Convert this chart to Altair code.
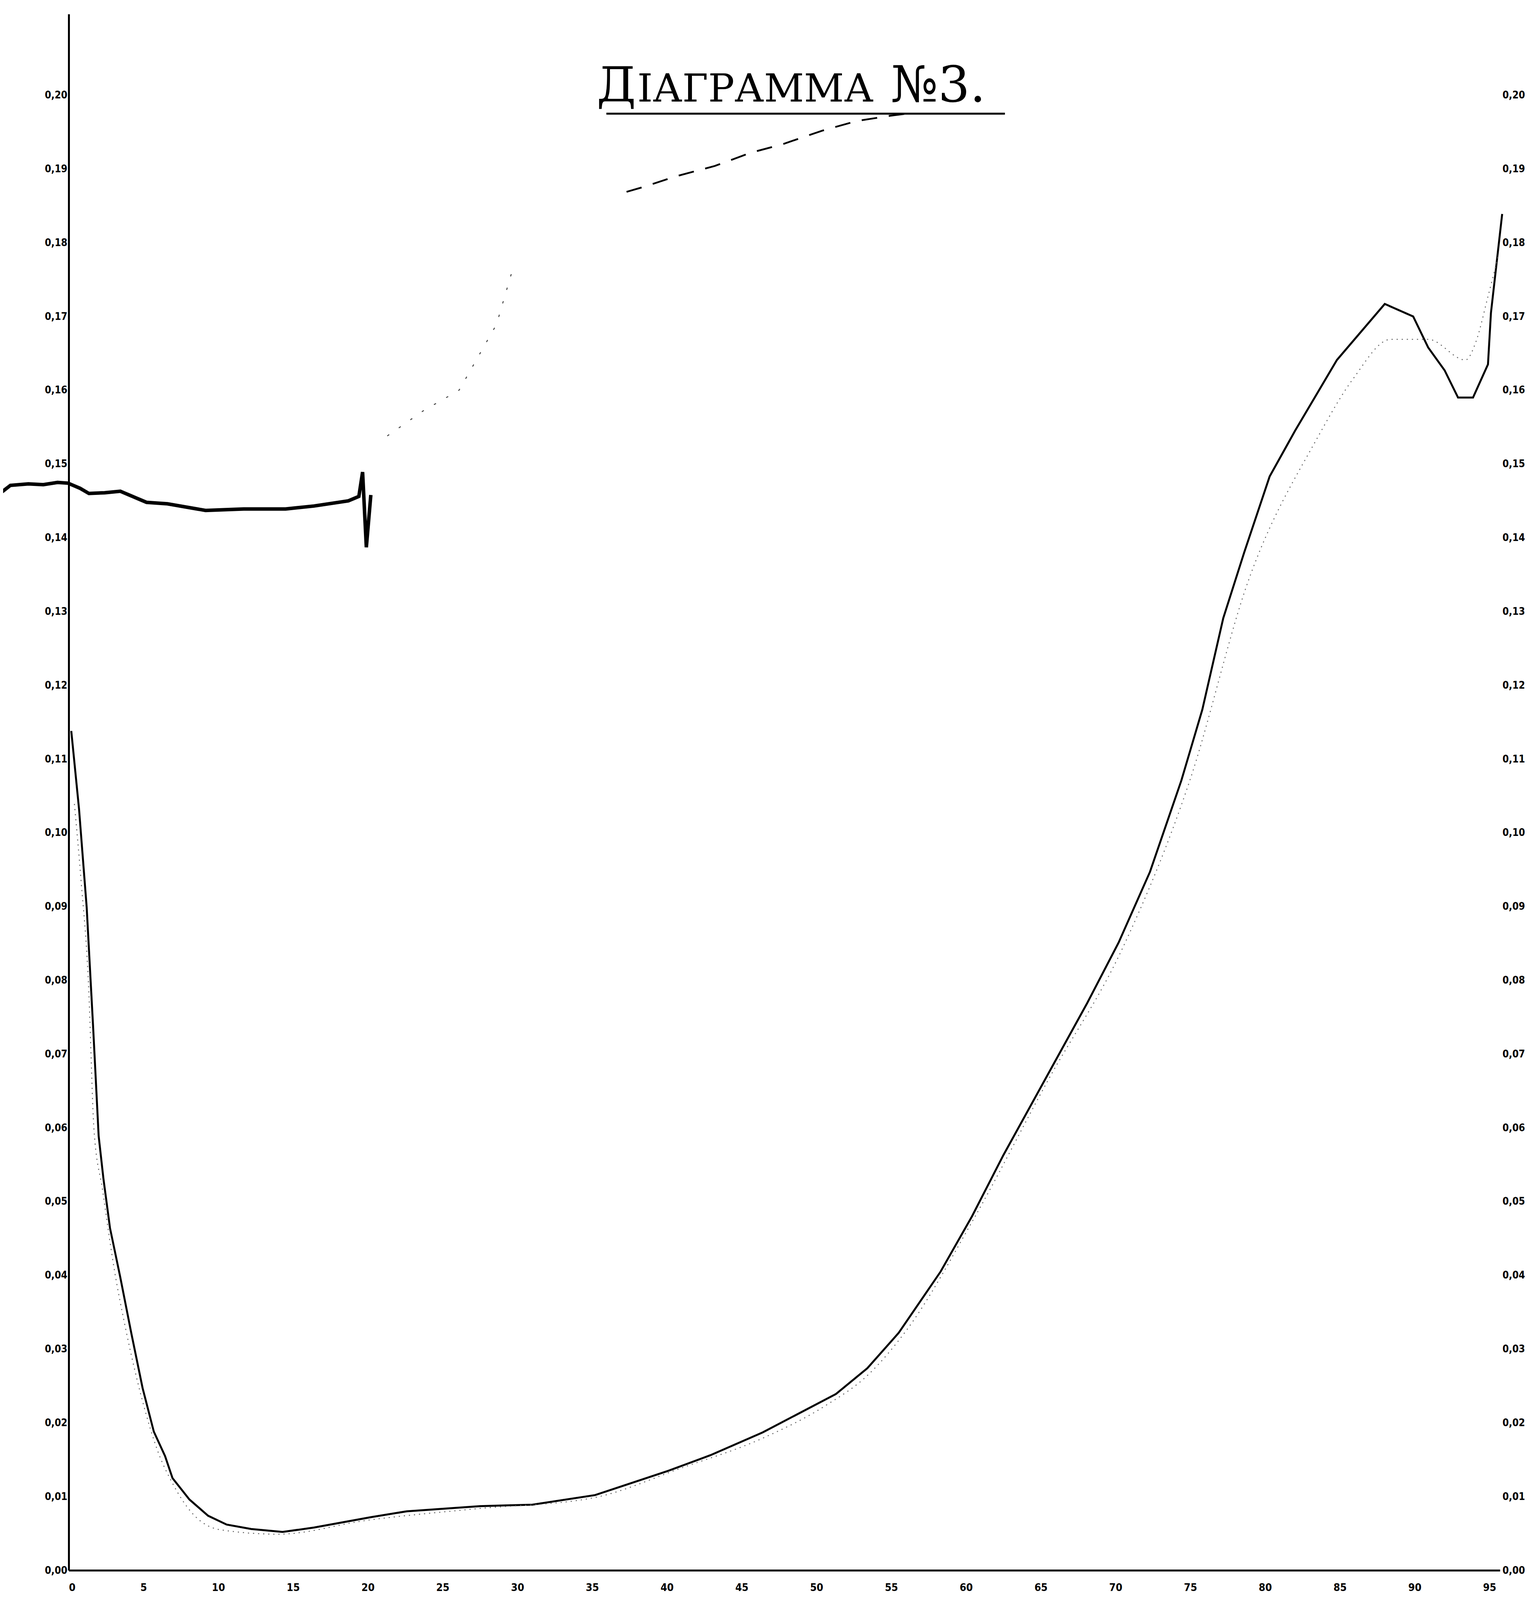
import altair as alt
import pandas as pd

# ---------------- data ----------------
main_x = [0.17, 0.69, 1.2, 1.63, 2.0, 2.32, 2.76, 3.44, 4.19, 4.94, 5.69, 6.44, 6.94, 8.07,
          9.32, 10.56, 12.2, 14.3, 16.4, 20.2, 22.6, 27.5, 31.0, 35.2, 40.1, 42.9, 46.4,
          51.3, 53.4, 55.5, 58.3, 60.4, 62.5, 65.3, 68.1, 70.2, 72.3, 74.4, 75.8, 77.2,
          78.6, 80.3, 82.0, 84.8, 88.0, 89.9, 90.9, 92.0, 92.9, 93.9, 94.9, 95.1, 95.85]
main_y = [0.1138, 0.1032, 0.0899, 0.0737, 0.0589, 0.0531, 0.0464, 0.0398, 0.0321, 0.0247,
          0.0188, 0.0155, 0.0125, 0.0096, 0.0074, 0.0062, 0.0056, 0.0052, 0.0058, 0.0072,
          0.0080, 0.0087, 0.0089, 0.0102, 0.0135, 0.0156, 0.0187, 0.0239, 0.0274, 0.0322,
          0.0405, 0.048, 0.0563, 0.0666, 0.0769, 0.0851, 0.0947, 0.1071, 0.1167, 0.1291,
          0.138, 0.1483, 0.1545, 0.1641, 0.1717, 0.170, 0.1658, 0.1627, 0.159, 0.159,
          0.1635, 0.1705, 0.1839]

dot_x = [0.38, 0.82, 1.32, 1.69, 2.26, 3.07, 3.76, 4.94, 6.0, 6.94, 7.57, 8.19, 10.13,
         14.0, 20.0, 27.0, 35.0, 41.0, 46.5, 50.5, 53.5, 56.0, 60.5, 65.5, 70.5, 74.95,
         78.9, 83.4, 85.9, 88.4, 90.9, 93.4, 94.1, 94.9, 95.6]
dot_y = [0.1039, 0.0936, 0.0796, 0.0597, 0.0516, 0.0405, 0.0332, 0.0229, 0.0159, 0.0118,
         0.0096, 0.0079, 0.0055, 0.0049, 0.0068, 0.0083, 0.0098, 0.0139, 0.0180, 0.0222,
         0.0266, 0.0325, 0.0476, 0.0665, 0.0845, 0.1070, 0.1343, 0.1532, 0.1616, 0.1669,
         0.1669, 0.1641, 0.1666, 0.1727, 0.1783]

frag_x = [-4.6, -3.9, -2.7, -1.7, -0.75, -0.05, 0.76, 1.35, 2.4, 3.45, 5.2, 6.6, 9.15,
          11.7, 14.5, 16.4, 18.7, 19.4, 19.65, 19.9, 20.2]
frag_y = [0.146, 0.1471, 0.1473, 0.1472, 0.1475, 0.1474, 0.1467, 0.146, 0.1461, 0.1463,
          0.1448, 0.1446, 0.1437, 0.1439, 0.1439, 0.1443, 0.145, 0.1456, 0.1489, 0.1387,
          0.1458]

arc_low_x = [21.3, 23.7, 26.1, 28.6, 29.6]
arc_low_y = [0.1538, 0.1572, 0.160, 0.1689, 0.1758]
arc_high_x = [37.3, 38.5, 40.6, 43.2, 45.6, 46.9, 47.8, 50.4, 52.7, 54.9, 56.4]
arc_high_y = [0.1869, 0.1876, 0.189, 0.1904, 0.1922, 0.1929, 0.1934, 0.1952, 0.1965,
              0.1972, 0.1976]

underline_x = [35.95]
underline_x2 = [62.6]
underline_y = [0.1975]

x_ticks = [0, 5, 10, 15, 20, 25, 30, 35, 40, 45, 50, 55, 60, 65, 70, 75, 80, 85, 90, 95]
y_ticks = [0.00, 0.01, 0.02, 0.03, 0.04, 0.05, 0.06, 0.07, 0.08, 0.09, 0.10,
           0.11, 0.12, 0.13, 0.14, 0.15, 0.16, 0.17, 0.18, 0.19, 0.20]

title_big = "Д"
title_small = "ІАГРАММА"
title_num = "№3."

# ---------------- tables ----------------
def table(xs, ys):
    return pd.DataFrame({"x": xs, "y": ys, "o": list(range(len(xs)))})

main_df = table(main_x, main_y)
dot_df = table(dot_x, dot_y)
frag_df = table(frag_x, frag_y)
arc_low_df = table(arc_low_x, arc_low_y)
arc_high_df = table(arc_high_x, arc_high_y)
ul_df = pd.DataFrame({"x": underline_x, "x2": underline_x2, "y": underline_y})

W, H = 3665, 3984
xscale = alt.Scale(domain=[0, 95.7], nice=False, zero=False)
yscale = alt.Scale(domain=[0, 0.211], nice=False, zero=False)

LABEL_FONT = "DejaVu Sans Condensed"
label_expr = "replace(format(datum.value, '.2f'), '.', ',')"

x_axis = alt.Axis(values=x_ticks, title=None, grid=False, ticks=False, domainColor="black",
                  domainWidth=5, labelFont=LABEL_FONT, labelFontWeight="bold",
                  labelFontSize=27, labelPadding=31, labelColor="black")
y_axis_left = alt.Axis(values=y_ticks, title=None, grid=False, ticks=False, domainColor="black",
                       domainWidth=5, labelFont=LABEL_FONT, labelFontWeight="bold",
                       labelFontSize=26, labelPadding=4, labelColor="black",
                       labelExpr=label_expr, orient="left")
y_axis_right = alt.Axis(values=y_ticks, title=None, grid=False, ticks=False, domain=False,
                        labelFont=LABEL_FONT, labelFontWeight="bold", labelFontSize=26,
                        labelPadding=6, labelColor="black", labelExpr=label_expr,
                        orient="right")

XE = alt.X("x:Q", scale=xscale, axis=x_axis)
YE = alt.Y("y:Q", scale=yscale, axis=y_axis_left)

main = alt.Chart(main_df).mark_line(color="black", strokeWidth=5).encode(
    x=XE, y=YE, order="o:Q")

dots = alt.Chart(dot_df).mark_line(color="#666666", strokeWidth=2.5, strokeDash=[3, 10],
                                   interpolate="monotone").encode(
    x="x:Q", y="y:Q", order="o:Q")

frag = alt.Chart(frag_df).mark_line(color="black", strokeWidth=9).encode(
    x="x:Q", y="y:Q", order="o:Q")

arc_low = alt.Chart(arc_low_df).mark_line(color="#444444", strokeWidth=2.5,
                                          strokeDash=[6, 30]).encode(
    x="x:Q", y="y:Q", order="o:Q")

arc_high = alt.Chart(arc_high_df).mark_line(color="black", strokeWidth=4.5,
                                            strokeDash=[40, 30]).encode(
    x="x:Q", y="y:Q", order="o:Q")

underline = alt.Chart(ul_df).mark_rule(color="black", strokeWidth=5).encode(
    x="x:Q", x2="x2:Q", y="y:Q")

TITLE_FONT = "DejaVu Serif"
t1 = alt.Chart(pd.DataFrame({"t": [title_big]})).mark_text(
    font=TITLE_FONT, fontSize=124, align="left", baseline="alphabetic", color="black").encode(
    text="t:N", x=alt.value(1352), y=alt.value(224))
t2 = alt.Chart(pd.DataFrame({"t": [title_small]})).mark_text(
    font=TITLE_FONT, fontSize=100, align="left", baseline="alphabetic", color="black").encode(
    text="t:N", x=alt.value(1456), y=alt.value(224))
t3 = alt.Chart(pd.DataFrame({"t": [title_num]})).mark_text(
    font=TITLE_FONT, fontSize=128, align="left", baseline="alphabetic", color="black").encode(
    text="t:N", x=alt.value(2105), y=alt.value(224))

plot_layer = alt.layer(main, dots, frag, arc_low, arc_high, underline, t1, t2, t3)

right_axis = alt.Chart(pd.DataFrame({"y": y_ticks})).mark_point(opacity=0).encode(
    y=alt.Y("y:Q", scale=yscale, axis=y_axis_right))

chart = alt.layer(plot_layer, right_axis).resolve_scale(
    y="independent"
).properties(
    width=W, height=H,
    autosize=alt.AutoSizeParams(type="none"),
    padding={"left": 168, "top": 28, "right": 67, "bottom": 62},
    background="white",
).configure_view(stroke=None)

chart.save("out.html", embed_options={"renderer": "svg", "actions": False})
